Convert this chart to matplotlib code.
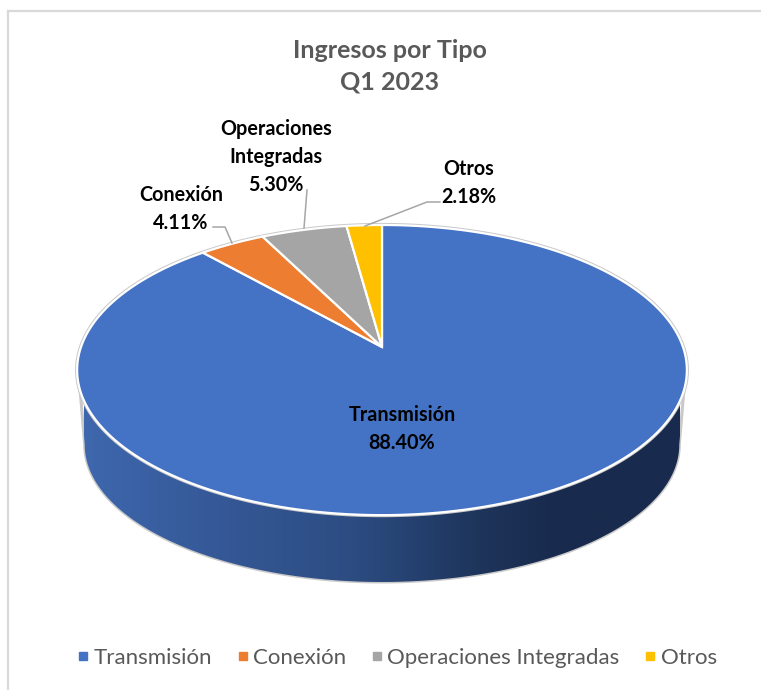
import numpy as np
import matplotlib
matplotlib.use("Agg")
import matplotlib.pyplot as plt
from matplotlib.lines import Line2D
from matplotlib.colors import LinearSegmentedColormap
from matplotlib.patches import Polygon

categories = ["Transmisión", "Conexión", "Operaciones Integradas", "Otros"]
shares = [88.40, 4.11, 5.30, 2.18]
colors = ["#4472C4", "#ED7D31", "#A5A5A5", "#FFC000"]

plt.rcParams['font.family'] = ['Lato', 'DejaVu Sans']

TILT = 0.159
CX = 382


def project(theta, apex_y=347.0, a=301.0, b=141.4):
    # theta in radians, clockwise from 12 o'clock, tilted disc with perspective
    u, v = np.sin(theta), np.cos(theta)
    w = 1 + TILT * v
    return CX + (-a * u / w), apex_y - b * v / w


def rim(start, end, n=200, **kw):
    t = np.linspace(start, end, n)
    x, y = project(t, **kw)
    return np.column_stack([x, y])


fig = plt.figure(figsize=(7.61, 6.90), dpi=100)
ax = fig.add_axes([0, 0, 1, 1])
ax.set_xlim(0, 761)
ax.set_ylim(690, 0)
ax.axis('off')

# chart frame
ax.plot([8, 8], [690, 11], color="#D9D9D9", lw=1.6, zorder=1)
ax.plot([8, 761], [11, 11], color="#D9D9D9", lw=1.6, zorder=1)

# side wall, gradient clipped to the outline
low = dict(apex_y=423.0, a=293.5, b=133.7)
side = np.vstack([rim(np.radians(-107), np.radians(-253)),
                  rim(np.radians(-261), np.radians(-99), **low)])
shade = LinearSegmentedColormap.from_list("side", [
    (0.0, "#3E67AD"), (0.2, "#365A99"), (0.45, "#2C4C82"),
    (0.68, "#1D3358"), (0.8, "#182A4D"), (1.0, "#182A4D")])
outline = Polygon(side, closed=True, fc="none", ec="#C9C9C9", lw=2.2, zorder=2)
ax.add_patch(outline)
img = ax.imshow(np.linspace(0, 1, 256).reshape(1, -1), cmap=shade, aspect='auto',
                extent=[84, 680, 590, 380], zorder=3)
img.set_clip_path(Polygon(side, closed=True, transform=ax.transData))
ax.set_xlim(0, 761)
ax.set_ylim(690, 0)

# top face, wedges run counter to the screen clock so Transmisión starts at the top going right
ax.add_patch(Polygon(rim(0, 2 * np.pi, 400), closed=True, fc="none", ec="#C9C9C9", lw=3, zorder=4))
edges = np.cumsum([0] + shares) / sum(shares) * 2 * np.pi
for i in range(len(shares)):
    pts = rim(-edges[i], -edges[i + 1])
    pts = np.vstack([[CX, 347.0], pts])
    ax.add_patch(Polygon(pts, closed=True, fc=colors[i], ec="white", lw=1.6, zorder=5))

# leader lines
leader = "#A6A6A6"
ax.plot([232, 225, 213], [243, 227, 227], color=leader, lw=1.1, zorder=6)
ax.plot([304, 307], [228, 190], color=leader, lw=1.1, zorder=6)
ax.plot([365, 427, 440], [226, 202, 202], color=leader, lw=1.1, zorder=6)

# data labels
lab = dict(ha='center', va='center', fontsize=14.2, fontweight='bold', color='black',
           linespacing=1.5, zorder=7)
ax.text(181, 209, f"{categories[1]}\n{shares[1]:.2f}%", **lab)
ax.text(276, 157, f"Operaciones\nIntegradas\n{shares[2]:.2f}%", **lab)
ax.text(469, 183, f"{categories[3]}\n{shares[3]:.2f}%", **lab)
ax.text(402, 429, f"{categories[0]}\n{shares[0]:.2f}%", **lab)

ax.text(390, 66, "Ingresos por Tipo\nQ1 2023", ha='center', va='center', fontsize=18,
        fontweight='bold', color="#595959", linespacing=1.45)

handles = [Line2D([], [], ls='none', marker='s', ms=6, color=c) for c in colors]
leg = ax.legend(handles, categories, loc='center', bbox_to_anchor=(397.5 / 761, 1 - 658 / 690),
                ncol=4, frameon=False, fontsize=16, labelcolor="#595959", handlelength=0.45,
                handletextpad=0.25, columnspacing=1.15, borderpad=0)

fig.savefig("out.png", dpi=100)
